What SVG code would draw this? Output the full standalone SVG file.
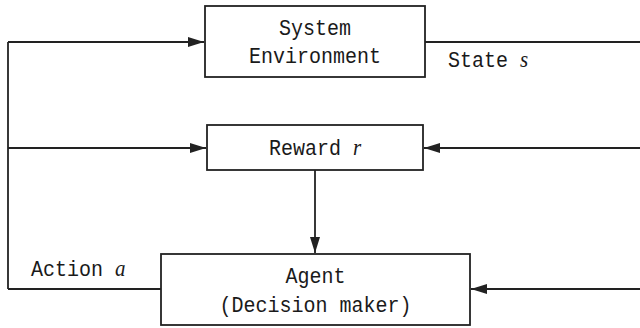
<svg xmlns="http://www.w3.org/2000/svg" width="640" height="328" viewBox="0 0 640 328">
<style>
.box{fill:#fff;stroke:#222;stroke-width:1.8}
.ln{fill:none;stroke:#222;stroke-width:1.8}
.t{font-family:"Liberation Mono",monospace;font-size:20px;fill:#1a1a1a;text-anchor:middle}
.tl{font-family:"Liberation Mono",monospace;font-size:20px;fill:#1a1a1a}
.it{font-family:"Liberation Serif",serif;font-style:italic;font-size:21px}
</style>
<defs>
<marker id="ah" viewBox="0 0 16 10" refX="16" refY="5" markerWidth="16" markerHeight="10" markerUnits="userSpaceOnUse" orient="auto">
<path d="M0,0 L16,5 L0,10 Z" fill="#222"/>
</marker>
</defs>
<g id="connectors">
<path class="ln" d="M8,42 L8,289"/>
<path class="ln" d="M8,42 L204,42" marker-end="url(#ah)"/>
<path class="ln" d="M8,148 L206,148" marker-end="url(#ah)"/>
<path class="ln" d="M425,42 L640,42"/>
<path class="ln" d="M640,148 L424,148" marker-end="url(#ah)"/>
<path class="ln" d="M315,170 L315,253" marker-end="url(#ah)"/>
<path class="ln" d="M161,289 L8,289"/>
<path class="ln" d="M640,289 L471,289" marker-end="url(#ah)"/>
</g>
<g id="system">
<rect class="box" x="205" y="6" width="220" height="71"/>
<text class="t" transform="translate(315,35) scale(1,1.13)">System</text>
<text class="t" transform="translate(315,63) scale(1,1.13)">Environment</text>
</g>
<g id="reward">
<rect class="box" x="207" y="125" width="216" height="45"/>
<text class="t" transform="translate(315,155) scale(1,1.13)">Reward <tspan class="it">r</tspan></text>
</g>
<g id="agent">
<rect class="box" x="161" y="254" width="309" height="71"/>
<text class="t" transform="translate(315.5,283) scale(1,1.13)">Agent</text>
<text class="t" transform="translate(315.5,312) scale(1,1.13)">(Decision maker)</text>
</g>
<g id="labels">
<text class="tl" transform="translate(448,67) scale(1,1.13)">State <tspan class="it">s</tspan></text>
<text class="tl" transform="translate(31,276) scale(1,1.13)">Action <tspan class="it">a</tspan></text>
</g>
</svg>
